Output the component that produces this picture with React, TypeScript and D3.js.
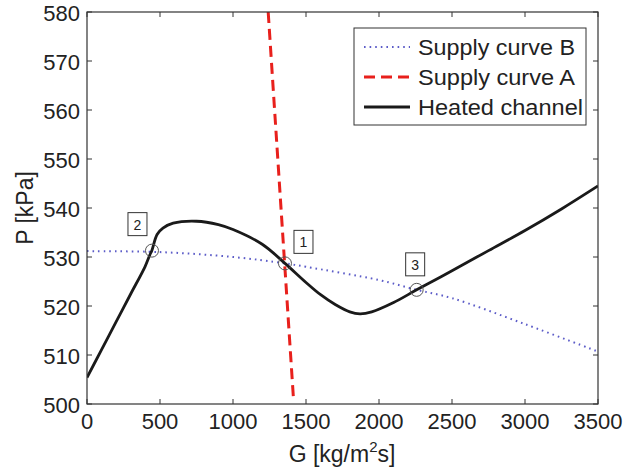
import React from "react";
import * as d3 from "d3";

// Operating-point diagram: pressure drop of a heated channel vs. two supply curves
const heatedG = [0, 100, 200, 300, 397, 430, 445, 480, 520, 590, 750, 900, 1000, 1200, 1356, 1500, 1600, 1700, 1800, 1870, 1950, 2100, 2258, 2500, 2750, 3000, 3250, 3500];
const heatedP = [505.4, 511.1, 516.8, 522.5, 528.0, 530.4, 531.4, 534.6, 535.9, 536.9, 537.3, 536.6, 535.6, 532.6, 528.7, 524.8, 522.3, 520.3, 518.8, 518.4, 518.8, 520.7, 523.3, 527.2, 531.3, 535.4, 539.8, 544.5];

const supplyBG = [0, 500, 1000, 1356, 1500, 2000, 2258, 2500, 3000, 3500];
const supplyBP = [531.2, 531.0, 530.0, 528.7, 528.0, 525.3, 523.3, 521.6, 516.3, 510.7];

const supplyAG = [1241, 1413];
const supplyAP = [580, 501.6];

// Intersection points and their labels
const opLabels = ["1", "2", "3"];
const opG = [1356, 445, 2258];
const opP = [528.7, 531.3, 523.3];

const xTicks = [0, 500, 1000, 1500, 2000, 2500, 3000, 3500];
const yTicks = [500, 510, 520, 530, 540, 550, 560, 570, 580];

const legendLabels = ["Supply curve B", "Supply curve A", "Heated channel"];

const W = 626;
const H = 471;
const left = 87, right = 598, top = 12, bottom = 404;
const FONT = "'Liberation Sans', Arial, Helvetica, sans-serif";
const AXIS = "#333";

export default function App() {
  const x = d3.scaleLinear().domain([0, 3500]).range([left, right]);
  const y = d3.scaleLinear().domain([500, 580]).range([bottom, top]);

  const line = d3
    .line<[number, number]>()
    .x((d) => x(d[0]))
    .y((d) => y(d[1]));

  const heatedPath = line.curve(d3.curveCatmullRom.alpha(0.5))(
    heatedG.map((g, i) => [g, heatedP[i]] as [number, number])
  ) as string;
  const supplyBPath = line.curve(d3.curveCatmullRom.alpha(0.5))(
    supplyBG.map((g, i) => [g, supplyBP[i]] as [number, number])
  ) as string;
  const supplyAPath = line.curve(d3.curveLinear)(
    supplyAG.map((g, i) => [g, supplyAP[i]] as [number, number])
  ) as string;

  // label box offsets relative to each operating point
  const boxOffsets: [number, number][] = [
    [9, -33],
    [-24, -38],
    [-11, -37],
  ];

  const tickLen = 5;

  return (
    <svg
      width={W}
      height={H}
      style={{ position: "absolute", left: 0, top: 0, background: "#fff" }}
      fontFamily={FONT}
    >
      <defs>
        <clipPath id="plotArea">
          <rect x={left} y={top} width={right - left} height={bottom - top} />
        </clipPath>
      </defs>
      <rect x={0} y={0} width={W} height={H} fill="#fff" />

      {/* ticks on all four sides, pointing inward */}
      {xTicks.map((t) => (
        <g key={"xt" + t}>
          <line x1={x(t)} x2={x(t)} y1={bottom} y2={bottom - tickLen} stroke={AXIS} strokeWidth={1} />
          <line x1={x(t)} x2={x(t)} y1={top} y2={top + tickLen} stroke={AXIS} strokeWidth={1} />
          <text x={x(t)} y={429} textAnchor="middle" fontSize={22} fill="#222">
            {t}
          </text>
        </g>
      ))}
      {yTicks.map((t) => (
        <g key={"yt" + t}>
          <line x1={left} x2={left + tickLen} y1={y(t)} y2={y(t)} stroke={AXIS} strokeWidth={1} />
          <line x1={right} x2={right - tickLen} y1={y(t)} y2={y(t)} stroke={AXIS} strokeWidth={1} />
          <text x={80} y={y(t) + 8.5} textAnchor="end" fontSize={22} fill="#222">
            {t}
          </text>
        </g>
      ))}

      <g clipPath="url(#plotArea)">
        <path d={supplyBPath} fill="none" stroke="#5c5cc8" strokeWidth={2} strokeDasharray="1.6 4" />
        <path d={supplyAPath} fill="none" stroke="#e8201c" strokeWidth={3} strokeDasharray="11 6" />
        <path d={heatedPath} fill="none" stroke="#1a1a1a" strokeWidth={2.8} strokeLinejoin="round" />
      </g>

      {/* operating points */}
      {opG.map((g, i) => (
        <g key={"op" + i}>
          <circle cx={x(g)} cy={y(opP[i])} r={6.5} fill="none" stroke="#555" strokeWidth={1} />
          <rect
            x={x(g) + boxOffsets[i][0]}
            y={y(opP[i]) + boxOffsets[i][1]}
            width={19}
            height={23}
            fill="#fff"
            stroke="#333"
            strokeWidth={1}
          />
          <text
            x={x(g) + boxOffsets[i][0] + 9.5}
            y={y(opP[i]) + boxOffsets[i][1] + 17}
            textAnchor="middle"
            fontSize={14}
            fill="#222"
          >
            {opLabels[i]}
          </text>
        </g>
      ))}

      {/* axes box */}
      <rect x={left} y={top} width={right - left} height={bottom - top} fill="none" stroke={AXIS} strokeWidth={1.2} />

      {/* legend */}
      <rect x={354} y={28} width={232} height={97} fill="#fff" stroke={AXIS} strokeWidth={1} />
      {legendLabels.map((lab, i) => {
        const ly = 47 + i * 30;
        return (
          <g key={"lg" + i}>
            {i === 0 && (
              <line x1={364} x2={410} y1={ly} y2={ly} stroke="#5c5cc8" strokeWidth={2} strokeDasharray="1.6 4" />
            )}
            {i === 1 && (
              <line x1={364} x2={412} y1={ly} y2={ly} stroke="#e8201c" strokeWidth={3} strokeDasharray="11 6" />
            )}
            {i === 2 && <line x1={364} x2={410} y1={ly} y2={ly} stroke="#1a1a1a" strokeWidth={2.8} />}
            <text
              x={418}
              y={ly + 8}
              fontSize={22}
              fill="#222"
              textLength={i === 2 ? 165 : 157}
              lengthAdjust="spacingAndGlyphs"
            >
              {lab}
            </text>
          </g>
        );
      })}

      {/* axis titles */}
      <text x={342} y={462} textAnchor="middle" fontSize={23} fill="#222">
        G [kg/m
        <tspan dy={-10} fontSize={15}>
          2
        </tspan>
        <tspan dy={10}>s]</tspan>
      </text>
      <text
        transform={`translate(33, 208) rotate(-90)`}
        textAnchor="middle"
        fontSize={23}
        fill="#222"
      >
        P [kPa]
      </text>
    </svg>
  );
}
